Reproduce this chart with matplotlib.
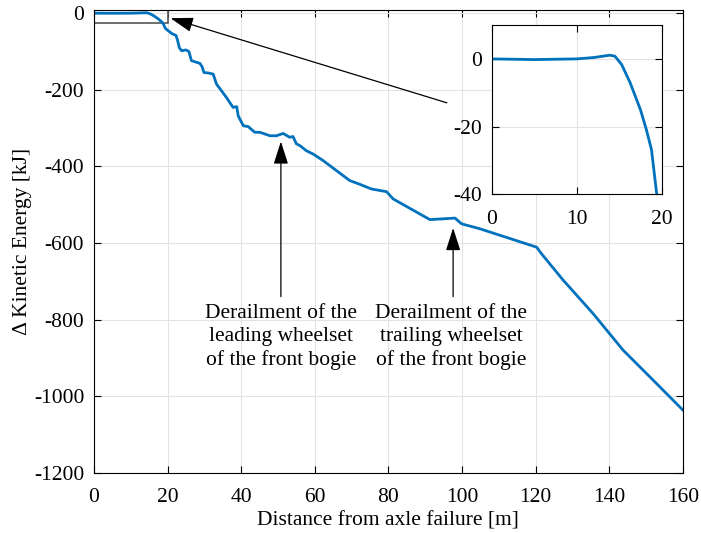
import matplotlib
matplotlib.use('Agg')
import matplotlib.pyplot as plt
from matplotlib.patches import Rectangle

plt.rcParams['font.family'] = ['Liberation Serif', 'DejaVu Serif']
plt.rcParams['font.size'] = 15.5
plt.rcParams['axes.unicode_minus'] = False

# distance from axle failure [m] and change in kinetic energy [kJ]
dist = [0, 5, 10, 12, 13.9, 14.5, 15.3, 16.3, 17.5, 18.2, 18.8, 19.4, 20.2, 21.3,
        22.3, 22.7, 23.2, 23.8, 25.0, 25.8, 26.5, 28.8, 29.4, 29.9, 31.0, 32.4,
        33.3, 36, 37.8, 38.8, 39.2, 40.6, 41.9, 43.7, 45.1, 47.8, 49.6, 51.4,
        53.2, 54.1, 55.0, 56.0, 57.7, 59.6, 62.3, 64.1, 67.7, 69.5, 72.3, 75.4,
        79.5, 81.3, 91.3, 98.1, 99.9, 104.9, 120.3, 121.6, 127.5, 135.6, 143.8,
        151, 160]
dke = [0, -0.2, 0, 0.4, 1.1, 0.8, -1.7, -7.1, -15, -20.9, -26.8, -39.6, -46, -54,
       -58, -70, -90, -98, -96, -100, -124, -131, -140, -155, -156, -159,
       -185, -220, -246, -244, -268, -294, -296, -311, -311, -320, -320, -314,
       -324, -322, -341, -346, -359, -368, -385, -398, -424, -437, -447, -459,
       -466, -485, -539, -535, -550, -563, -611, -628, -697, -784, -880,
       -949, -1036]

label_lead = 'Derailment of the\nleading wheelset\nof the front bogie'
label_trail = 'Derailment of the\ntrailing wheelset\nof the front bogie'

blue = '#0072BD'
grid_c = '#e3e3e3'


def style_axes(ax):
    ax.grid(True, color=grid_c, lw=0.8)
    ax.set_axisbelow(True)
    ax.tick_params(direction='in', top=True, right=True, length=5, width=0.8)
    ax.tick_params(axis='x', pad=11)
    ax.tick_params(axis='y', pad=7)
    for s in ax.spines.values():
        s.set_linewidth(0.8)


fig = plt.figure(figsize=(7.01, 5.33), dpi=100)
ax = fig.add_axes([0.134, 0.113, 0.840, 0.868])
ax.plot(dist, dke, color=blue, lw=2)
ax.set_xlim(0, 160)
ax.set_ylim(-1200, 8)
ax.set_xticks(range(0, 161, 20))
ax.set_yticks(range(-1200, 1, 200))
style_axes(ax)
ax.set_xlabel('Distance from axle failure [m]', labelpad=3)
ax.set_ylabel('Δ Kinetic Energy [kJ]', labelpad=1)

ax.add_patch(Rectangle((0, -25), 20, 40, fill=False, edgecolor='#555555', lw=1.2))

arrow = dict(arrowstyle='-|>,head_length=1.4,head_width=0.45', color='k', lw=0.9,
             shrinkA=0, shrinkB=0, mutation_scale=10)
ax.annotate('', xy=(20.8, -13), xytext=(95.9, -234), arrowprops=arrow)
ax.annotate('', xy=(50.8, -335), xytext=(50.8, -740), arrowprops=arrow)
ax.annotate('', xy=(97.6, -561), xytext=(97.6, -740), arrowprops=arrow)
ax.text(50.8, -845, label_lead, ha='center', va='center', linespacing=1.3)
ax.text(97.0, -845, label_trail, ha='center', va='center', linespacing=1.3)

ins = fig.add_axes([0.7014, 0.6355, 0.2425, 0.3175])
ins.plot(dist, dke, color=blue, lw=2)
ins.set_xlim(0, 20)
ins.set_ylim(-40, 10)
ins.set_xticks([0, 10, 20])
ins.set_yticks([-40, -20, 0])
style_axes(ins)

fig.savefig('out.png', dpi=100)
